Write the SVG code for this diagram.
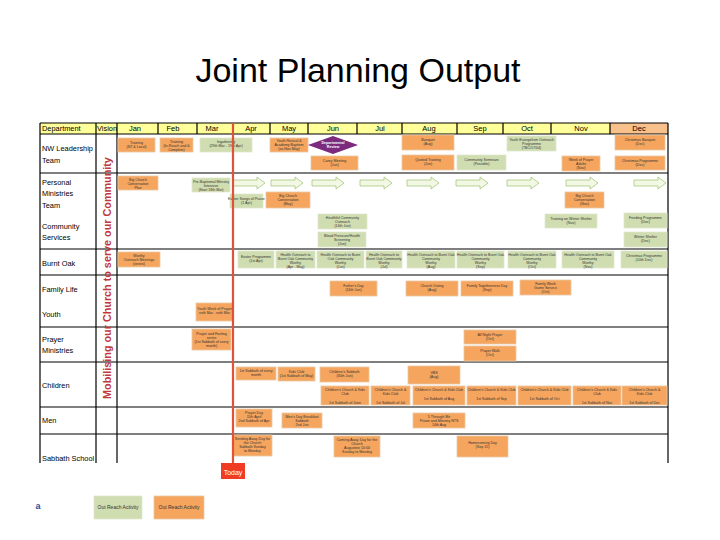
<svg xmlns="http://www.w3.org/2000/svg" width="720" height="540" viewBox="0 0 720 540">
<defs>
<style>
.o{fill:#F5A55D;stroke:#E8C8A8;stroke-width:0.8}
.g{fill:#CFDDB0;stroke:#E0E8D0;stroke-width:0.8}
.t{font-family:"Liberation Sans",Arial,sans-serif;font-size:3.6px;fill:#333;text-anchor:middle}
.d{font-family:"Liberation Sans",Arial,sans-serif;font-size:7.4px;fill:#000}
.h{font-family:"Liberation Sans",Arial,sans-serif;font-size:7.5px;fill:#000;text-anchor:middle}
.ln{stroke:#000;stroke-width:1.2}
.ar{fill:#F2F8E4;stroke:#9CC070;stroke-width:0.7}
</style>
<path id="arw" d="M0,-3 L24,-3 L24,-6 L32,0 L24,6 L24,3 L0,3 Z"/>
</defs>
<rect width="720" height="540" fill="#fff"/>
<text x="358" y="82" font-family="Liberation Sans,Arial,sans-serif" font-size="34" text-anchor="middle" fill="#000">Joint Planning Output</text>

<g id="grid">
<rect x="40" y="123" width="628" height="11" fill="#FFFF99"/>
<rect x="610" y="123" width="58" height="11" fill="#F8C08A"/>
<g class="ln">
<line x1="40" y1="123" x2="668" y2="123"/>
<line x1="40" y1="134" x2="668" y2="134"/>
<line x1="40" y1="173" x2="668" y2="173"/>
<line x1="40" y1="249" x2="668" y2="249"/>
<line x1="40" y1="275" x2="668" y2="275"/>
<line x1="40" y1="327" x2="668" y2="327"/>
<line x1="40" y1="362" x2="668" y2="362"/>
<line x1="40" y1="407" x2="668" y2="407"/>
<line x1="40" y1="434" x2="668" y2="434"/>
<line x1="40" y1="123" x2="40" y2="463"/>
<line x1="96" y1="123" x2="96" y2="463"/>
<line x1="117" y1="123" x2="117" y2="463"/>
<line x1="668" y1="123" x2="668" y2="463"/>
<line x1="158" y1="123" x2="158" y2="134"/>
<line x1="197" y1="123" x2="197" y2="134"/>
<line x1="270" y1="123" x2="270" y2="134"/>
<line x1="308" y1="123" x2="308" y2="134"/>
<line x1="357" y1="123" x2="357" y2="134"/>
<line x1="402" y1="123" x2="402" y2="134"/>
<line x1="457" y1="123" x2="457" y2="134"/>
<line x1="503" y1="123" x2="503" y2="134"/>
<line x1="551" y1="123" x2="551" y2="134"/>
<line x1="610" y1="123" x2="610" y2="134"/>
</g>
<text class="d" x="42" y="131">Department</text>
<text class="d" x="97" y="131">Vision</text>
<text class="h" x="135" y="131">Jan</text>
<text class="h" x="173" y="131">Feb</text>
<text class="h" x="212" y="131">Mar</text>
<text class="h" x="251" y="131">Apr</text>
<text class="h" x="289" y="131">May</text>
<text class="h" x="333" y="131">Jun</text>
<text class="h" x="380" y="131">Jul</text>
<text class="h" x="429" y="131">Aug</text>
<text class="h" x="480" y="131">Sep</text>
<text class="h" x="527" y="131">Oct</text>
<text class="h" x="581" y="131">Nov</text>
<text class="h" x="639" y="131">Dec</text>
<text class="d" x="42" y="151">NW Leadership</text>
<text class="d" x="42" y="163">Team</text>
<text class="d" x="42" y="185">Personal</text>
<text class="d" x="42" y="196">Ministries</text>
<text class="d" x="42" y="208">Team</text>
<text class="d" x="42" y="229">Community</text>
<text class="d" x="42" y="240">Services</text>
<text class="d" x="42" y="266">Burnt Oak</text>
<text class="d" x="42" y="292">Family Life</text>
<text class="d" x="42" y="317">Youth</text>
<text class="d" x="42" y="342">Prayer</text>
<text class="d" x="42" y="353">Ministries</text>
<text class="d" x="42" y="388">Children</text>
<text class="d" x="42" y="423">Men</text>
<text class="d" x="42" y="461">Sabbath School</text>
<text transform="translate(111,278) rotate(-90)" font-family="Liberation Sans,Arial,sans-serif" font-size="10.8" font-weight="bold" fill="#C0393B" text-anchor="middle">Mobilising our Church to serve our Community</text>
</g>

<g id="connectors">
<use href="#arw" class="ar" x="233" y="183"/>
<use href="#arw" class="ar" x="271" y="183"/>
<use href="#arw" class="ar" x="312" y="183"/>
<use href="#arw" class="ar" x="360" y="183"/>
<use href="#arw" class="ar" x="407" y="183"/>
<use href="#arw" class="ar" x="456" y="183"/>
<use href="#arw" class="ar" x="507" y="183"/>
<use href="#arw" class="ar" x="566" y="183"/>
<use href="#arw" class="ar" x="634" y="183"/>
</g>

<g id="nw-leadership">
<g id="n1"><rect class="o" x="118" y="138" width="37" height="14"/><text class="t" x="136.5" y="144">Training<tspan x="136.5" dy="4">(NT &amp; Local)</tspan></text></g>
<g id="n2"><rect class="o" x="160" y="138" width="33" height="14"/><text class="t" x="176.5" y="143">Training<tspan x="176.5" dy="4">(In-Reach and &amp;</tspan><tspan x="176.5" dy="4">Complete)</tspan></text></g>
<g id="n3"><rect class="g" x="200" y="138" width="52" height="14"/><text class="t" x="226" y="143">Ingathering<tspan x="226" dy="4">(29th Mar - 19th Apr)</tspan></text></g>
<g id="n4"><rect class="o" x="270" y="138" width="38" height="14"/><text class="t" x="289" y="142">Youth Revival &amp;<tspan x="289" dy="4">Academy Baptism</tspan><tspan x="289" dy="4">(xx-Nov May)</tspan></text></g>
<g id="n5"><polygon points="308,145 333,136 358,145 333,154" fill="#7B2A7E"/><text class="t" x="333" y="144" style="fill:#fff;font-weight:bold">Departmental<tspan x="333" dy="4">Review</tspan></text></g>
<g id="n6"><rect class="o" x="311" y="156" width="47" height="14"/><text class="t" x="334.5" y="162">Carey Meeting<tspan x="334.5" dy="4">(Jun)</tspan></text></g>
<g id="n7"><rect class="o" x="402" y="135" width="52" height="15"/><text class="t" x="428" y="141">Banquet<tspan x="428" dy="4">(Aug)</tspan></text></g>
<g id="n8"><rect class="o" x="402" y="155" width="52" height="15"/><text class="t" x="428" y="161">Quoted Training<tspan x="428" dy="4">(Jun)</tspan></text></g>
<g id="n9"><rect class="g" x="457" y="155" width="49" height="15"/><text class="t" x="481.5" y="161">Community Seminars<tspan x="481.5" dy="4">(Possible)</tspan></text></g>
<g id="n10"><rect class="g" x="507" y="136" width="49" height="15"/><text class="t" x="531.5" y="141">Youth Evangelism Outreach<tspan x="531.5" dy="4">Programme</tspan><tspan x="531.5" dy="4">(TBC/17/04)</tspan></text></g>
<g id="n11"><rect class="o" x="562" y="156" width="38" height="15"/><text class="t" x="581" y="161">Week of Prayer<tspan x="581" dy="4">Adults</tspan><tspan x="581" dy="4">(Nov)</tspan></text></g>
<g id="n12"><rect class="o" x="615" y="135" width="50" height="15"/><text class="t" x="640" y="141">Christmas Banquet<tspan x="640" dy="4">(Dec)</tspan></text></g>
<g id="n13"><rect class="o" x="615" y="156" width="50" height="14"/><text class="t" x="640" y="162">Christmas Programme<tspan x="640" dy="4">(Dec)</tspan></text></g>
</g>

<g id="personal-ministries">
<g id="p1"><rect class="o" x="118" y="176" width="40" height="14"/><text class="t" x="138" y="181">Big Church<tspan x="138" dy="4">Conversation</tspan><tspan x="138" dy="4">Plan</tspan></text></g>
<g id="p2"><rect class="g" x="192" y="178" width="38" height="14"/><text class="t" x="211" y="183">Pre-Baptismal Ministry<tspan x="211" dy="4">Intensive</tspan><tspan x="211" dy="4">(Start 18th Mar)</tspan></text></g>
<g id="p3"><rect class="g" x="230" y="194" width="33" height="14"/><text class="t" x="246.5" y="200">Easter Songs of Praise<tspan x="246.5" dy="4">(1 Apr)</tspan></text></g>
<g id="p4"><rect class="o" x="266" y="192" width="44" height="16"/><text class="t" x="288" y="197">Big Church<tspan x="288" dy="4">Conversation</tspan><tspan x="288" dy="4">(May)</tspan></text></g>
<g id="p5"><rect class="o" x="565" y="192" width="39" height="16"/><text class="t" x="584.5" y="197">Big Church<tspan x="584.5" dy="4">Conversation</tspan><tspan x="584.5" dy="4">(Nov)</tspan></text></g>
<g id="c1"><rect class="g" x="318" y="214" width="49" height="15"/><text class="t" x="342.5" y="219">Healthful Community<tspan x="342.5" dy="4">Outreach</tspan><tspan x="342.5" dy="4">(14th Jun)</tspan></text></g>
<g id="c2"><rect class="g" x="318" y="232" width="48" height="15"/><text class="t" x="342" y="237">Blood Pressure/Health<tspan x="342" dy="4">Screening</tspan><tspan x="342" dy="4">(Jun)</tspan></text></g>
<g id="c3"><rect class="g" x="545" y="214" width="52" height="14"/><text class="t" x="571" y="220">Training on Winter Shelter<tspan x="571" dy="4">(Nov)</tspan></text></g>
<g id="c4"><rect class="g" x="624" y="213" width="43" height="15"/><text class="t" x="645.5" y="219">Feeding Programme<tspan x="645.5" dy="4">(Dec)</tspan></text></g>
<g id="c5"><rect class="g" x="624" y="232" width="43" height="15"/><text class="t" x="645.5" y="238">Winter Shelter<tspan x="645.5" dy="4">(Dec)</tspan></text></g>
</g>

<g id="burnt-oak">
<g id="b1"><rect class="o" x="118" y="252" width="42" height="15"/><text class="t" x="139" y="257">Worthy<tspan x="139" dy="4">Outreach Meetings</tspan><tspan x="139" dy="4">(series)</tspan></text></g>
<g id="b2"><rect class="g" x="238" y="251" width="36" height="17"/><text class="t" x="256" y="258">Easter Programme<tspan x="256" dy="4">(1st Apr)</tspan></text></g>
<g id="b3"><rect class="g" x="276" y="251" width="39" height="17"/><text class="t" x="295.5" y="256">Health Outreach to<tspan x="295.5" dy="4">Burnt Oak Community</tspan><tspan x="295.5" dy="4">Worthy</tspan><tspan x="295.5" dy="4">(Apr - May)</tspan></text></g>
<g id="b4"><rect class="g" x="317" y="251" width="47" height="17"/><text class="t" x="340.5" y="256">Health Outreach to Burnt<tspan x="340.5" dy="4">Oak Community</tspan><tspan x="340.5" dy="4">Worthy</tspan><tspan x="340.5" dy="4">(Jun)</tspan></text></g>
<g id="b5"><rect class="g" x="366" y="251" width="36" height="17"/><text class="t" x="384" y="256">Health Outreach to<tspan x="384" dy="4">Burnt Oak Community</tspan><tspan x="384" dy="4">Worthy</tspan><tspan x="384" dy="4">(Jul)</tspan></text></g>
<g id="b6"><rect class="g" x="407" y="251" width="48" height="17"/><text class="t" x="431" y="256">Health Outreach to Burnt Oak<tspan x="431" dy="4">Community</tspan><tspan x="431" dy="4">Worthy</tspan><tspan x="431" dy="4">(Aug)</tspan></text></g>
<g id="b7"><rect class="g" x="457" y="251" width="47" height="17"/><text class="t" x="480.5" y="256">Health Outreach to Burnt Oak<tspan x="480.5" dy="4">Community</tspan><tspan x="480.5" dy="4">Worthy</tspan><tspan x="480.5" dy="4">(Sep)</tspan></text></g>
<g id="b8"><rect class="g" x="508" y="251" width="48" height="17"/><text class="t" x="532" y="256">Health Outreach to Burnt Oak<tspan x="532" dy="4">Community</tspan><tspan x="532" dy="4">Worthy</tspan><tspan x="532" dy="4">(Oct)</tspan></text></g>
<g id="b9"><rect class="g" x="562" y="251" width="52" height="17"/><text class="t" x="588" y="256">Health Outreach to Burnt Oak<tspan x="588" dy="4">Community</tspan><tspan x="588" dy="4">Worthy</tspan><tspan x="588" dy="4">(Nov)</tspan></text></g>
<g id="b10"><rect class="g" x="621" y="251" width="46" height="17"/><text class="t" x="644" y="257">Christmas Programme<tspan x="644" dy="4">(10th Dec)</tspan></text></g>
</g>

<g id="family-life">
<g id="f1"><rect class="o" x="330" y="281" width="47" height="15"/><text class="t" x="353.5" y="287">Father's Day<tspan x="353.5" dy="4">(16th Jun)</tspan></text></g>
<g id="f2"><rect class="o" x="406" y="281" width="52" height="15"/><text class="t" x="432" y="287">Church Outing<tspan x="432" dy="4">(Aug)</tspan></text></g>
<g id="f3"><rect class="o" x="461" y="281" width="52" height="15"/><text class="t" x="487" y="287">Family Togetherness Day<tspan x="487" dy="4">(Sep)</tspan></text></g>
<g id="f4"><rect class="o" x="520" y="280" width="51" height="15"/><text class="t" x="545.5" y="285">Family Week<tspan x="545.5" dy="4">Game Service</tspan><tspan x="545.5" dy="4">(Oct)</tspan></text></g>
</g>

<g id="youth">
<g id="y1"><rect class="o" x="196" y="303" width="37" height="18"/><text class="t" x="214.5" y="310">Youth Week of Prayer<tspan x="214.5" dy="4">xxth Mar - xxth Mar</tspan></text></g>
</g>

<g id="prayer">
<g id="r1"><rect class="o" x="192" y="329" width="39" height="21"/><text class="t" x="211.5" y="335">Prayer and Fasting<tspan x="211.5" dy="4">series</tspan><tspan x="211.5" dy="4">(1st Sabbath of every</tspan><tspan x="211.5" dy="4">month)</tspan></text></g>
<g id="r2"><rect class="o" x="464" y="330" width="52" height="14"/><text class="t" x="490" y="336">All Night Prayer<tspan x="490" dy="4">(Oct)</tspan></text></g>
<g id="r3"><rect class="o" x="464" y="346" width="52" height="15"/><text class="t" x="490" y="352">Prayer Walk<tspan x="490" dy="4">(Oct)</tspan></text></g>
</g>

<g id="children">
<g id="k1"><rect class="o" x="236" y="367" width="40" height="13"/><text class="t" x="256" y="372">1st Sabbath of every<tspan x="256" dy="4">month</tspan></text></g>
<g id="k2"><rect class="o" x="278" y="367" width="37" height="14"/><text class="t" x="296.5" y="373">Kids Club<tspan x="296.5" dy="4">(1st Sabbath of May)</tspan></text></g>
<g id="k3"><rect class="o" x="320" y="367" width="49" height="15"/><text class="t" x="344.5" y="373">Children's Sabbath<tspan x="344.5" dy="4">(30th Jun)</tspan></text></g>
<g id="k4"><rect class="o" x="408" y="366" width="52" height="18"/><text class="t" x="434" y="374">VBS<tspan x="434" dy="4">(Aug)</tspan></text></g>
<g id="k5"><rect class="o" x="321" y="386" width="48" height="19"/><text class="t" x="345" y="391">Children's Church &amp; Kids<tspan x="345" dy="4">Club</tspan><tspan x="345" dy="9">1st Sabbath of June</tspan></text></g>
<g id="k6"><rect class="o" x="371" y="386" width="39" height="19"/><text class="t" x="390.5" y="391">Children's Church &amp;<tspan x="390.5" dy="4">Kids Club</tspan><tspan x="390.5" dy="9">1st Sabbath of Jul</tspan></text></g>
<g id="k7"><rect class="o" x="413" y="386" width="52" height="19"/><text class="t" x="439" y="391">Children's Church &amp; Kids Club<tspan x="439" dy="9">1st Sabbath of Aug</tspan></text></g>
<g id="k8"><rect class="o" x="467" y="386" width="49" height="19"/><text class="t" x="491.5" y="391">Children's Church &amp; Kids Club<tspan x="491.5" dy="9">1st Sabbath of Sep</tspan></text></g>
<g id="k9"><rect class="o" x="518" y="386" width="53" height="19"/><text class="t" x="544.5" y="391">Children's Church &amp; Kids Club<tspan x="544.5" dy="9">1st Sabbath of Oct</tspan></text></g>
<g id="k10"><rect class="o" x="573" y="386" width="48" height="19"/><text class="t" x="597" y="391">Children's Church &amp; Kids<tspan x="597" dy="4">Club</tspan><tspan x="597" dy="9">1st Sabbath of Nov</tspan></text></g>
<g id="k11"><rect class="o" x="622" y="386" width="45" height="19"/><text class="t" x="644.5" y="391">Children's Church &amp;<tspan x="644.5" dy="4">Kids Club</tspan><tspan x="644.5" dy="9">1st Sabbath of Dec</tspan></text></g>
</g>

<g id="men">
<g id="m1"><rect class="o" x="236" y="409" width="36" height="18"/><text class="t" x="254" y="414">Prayer Day<tspan x="254" dy="4">11th April</tspan><tspan x="254" dy="4">2nd Sabbath of Apr</tspan></text></g>
<g id="m2"><rect class="o" x="282" y="413" width="40" height="15"/><text class="t" x="302" y="418">Men's Day Breakfast<tspan x="302" dy="4">Sabbath</tspan><tspan x="302" dy="4">2nd Jun</tspan></text></g>
<g id="m3"><rect class="o" x="413" y="413" width="52" height="15"/><text class="t" x="439" y="418">5 Through Me<tspan x="439" dy="4">Prison and Ministry NTS</tspan><tspan x="439" dy="4">14th Aug</tspan></text></g>
</g>

<g id="sabbath-school">
<g id="s1"><rect class="o" x="233" y="435" width="39" height="21"/><text class="t" x="252.5" y="440">Sending Away Day for<tspan x="252.5" dy="4">the Church</tspan><tspan x="252.5" dy="4">Sabbath Sunday</tspan><tspan x="252.5" dy="4">to Monday</tspan></text></g>
<g id="s2"><rect class="o" x="334" y="436" width="46" height="21"/><text class="t" x="357" y="441">Coming Away Day for the<tspan x="357" dy="4">Church</tspan><tspan x="357" dy="4">Augustine 10:00</tspan><tspan x="357" dy="4">Sunday to Monday</tspan></text></g>
<g id="s3"><rect class="o" x="457" y="436" width="51" height="21"/><text class="t" x="482.5" y="444">Homecoming Day<tspan x="482.5" dy="4">(Sep 15)</tspan></text></g>
</g>

<g id="today">
<line x1="233" y1="123" x2="233" y2="466" stroke="#E0533A" stroke-width="2.2"/>
<rect x="221" y="463" width="24" height="16" fill="#F03C22"/>
<text x="233" y="475" font-family="Liberation Sans,Arial,sans-serif" font-size="7" fill="#fff" text-anchor="middle">Today</text>
</g>

<g id="legend">
<text x="38" y="509" font-family="Liberation Sans,Arial,sans-serif" font-size="9" font-weight="bold" fill="#2A4B9A" text-anchor="middle">a</text>
<rect class="g" x="94" y="496" width="48" height="23"/>
<text class="t" x="118" y="509" style="font-size:5px">Out Reach Activity</text>
<rect class="o" x="154" y="496" width="50" height="23"/>
<text class="t" x="179" y="509" style="font-size:5px">Out Reach Activity</text>
</g>
</svg>
